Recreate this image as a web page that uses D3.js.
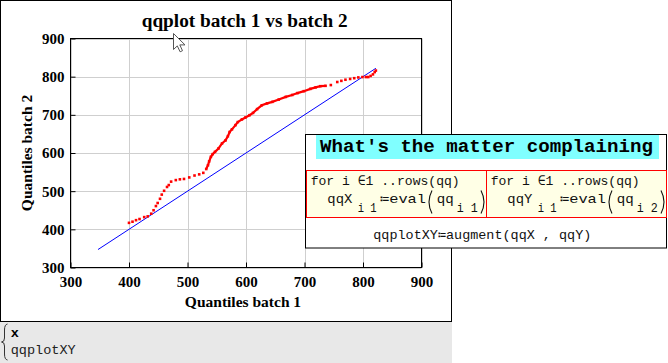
<!DOCTYPE html>
<html><head><meta charset="utf-8">
<script src="https://cdn.jsdelivr.net/npm/d3@7"></script>
<style>body{margin:0;background:#fff} svg{display:block}</style>
</head><body>
<svg id="c" width="668" height="363"></svg>
<script>
const chartTitle = "qqplot batch 1 vs batch 2";
const xLabel = "Quantiles batch 1";
const yLabel = "Quantiles batch 2";
const xTicks = [300, 400, 500, 600, 700, 800, 900];
const yTicks = [300, 400, 500, 600, 700, 800, 900];
const batch1Quantiles = [400,406,412,418,426,432,438,442,446,449,453,456,460,465,468,472,480,487,494,503,512,520,527,532,535,537,540,543,547,553,559,565,569,572,576,582,586,593,599,606,612,619,627,636,645,656,668,679,688,699,710,719,727,736,745,756,763,770,778,785,792,799,805,809,813,817,820,822];
const batch2Quantiles = [417,420,424,427,432,434,441,450,461,469,480,491,501,511,516,525,529,531,532,536,541,544,548,558,568,578,590,597,603,612,625,633,644,655,662,673,681,688,693,699,705,715,725,730,734,740,747,752,757,762,768,772,775,776,778,786,789,792,794,796,798,799,799,799,802,806,812,816];
const refLine = [347, 822];
const solidRange = [530, 740];

const svg = d3.select("#c");
const serif = "'Liberation Serif', 'Times New Roman', serif";
const mono = "'Liberation Mono', 'Courier New', monospace";

// outer frame
svg.append("rect").attr("x", 0.5).attr("y", 0.5).attr("width", 451).attr("height", 321)
  .attr("fill", "#fff").attr("stroke", "#000");
// gray area below
svg.append("rect").attr("x", 0).attr("y", 322).attr("width", 452).attr("height", 41).attr("fill", "#e8e8e8");

const x = d3.scaleLinear().domain([300, 900]).range([70.5, 421.5]);
const y = d3.scaleLinear().domain([300, 900]).range([267.5, 38.5]);

const g = svg.append("g");
// grid
g.selectAll(".gx").data(xTicks).join("line")
  .attr("x1", d => Math.round(x(d)) + 0.5).attr("x2", d => Math.round(x(d)) + 0.5)
  .attr("y1", y(900)).attr("y2", y(300)).attr("stroke", "#cfcfcf");
g.selectAll(".gy").data(yTicks).join("line")
  .attr("y1", d => Math.round(y(d)) + 0.5).attr("y2", d => Math.round(y(d)) + 0.5)
  .attr("x1", x(300)).attr("x2", x(900)).attr("stroke", "#cfcfcf");

// axes
const xa = svg.append("g").attr("transform", `translate(0,${y(300)})`)
  .call(d3.axisBottom(x).tickValues(xTicks).tickSize(-5).tickPadding(8).tickFormat(d3.format("d")));
const ya = svg.append("g").attr("transform", `translate(${x(300)},0)`)
  .call(d3.axisLeft(y).tickValues(yTicks).tickSize(-5).tickPadding(6).tickFormat(d3.format("d")));
[xa, ya].forEach(a => {
  a.select(".domain").remove();
  a.selectAll("line").attr("stroke", "#000");
  a.selectAll("text").attr("font-family", serif).attr("font-weight", "bold")
    .attr("font-size", 15).attr("fill", "#000");
});
xa.selectAll("text").attr("dy", "0.78em");
ya.selectAll("text").attr("dy", "0.33em");

// border
svg.append("rect").attr("x", x(300)).attr("y", y(900))
  .attr("width", x(900) - x(300)).attr("height", y(300) - y(900))
  .attr("fill", "none").attr("stroke", "#000");

// reference line
svg.append("path").datum(refLine)
  .attr("d", d3.line().x(d => x(d)).y(d => y(d)))
  .attr("stroke", "#0000ff").attr("stroke-width", 1).attr("fill", "none");

// qq points
const pts = batch1Quantiles.map((v, i) => [v, batch2Quantiles[i]]);
const solid = pts.filter(p => p[0] >= solidRange[0] && p[0] <= solidRange[1]);
svg.append("path").datum(solid)
  .attr("d", d3.line().x(d => x(d[0])).y(d => y(d[1])))
  .attr("stroke", "#ff0000").attr("stroke-width", 2.2).attr("fill", "none");
svg.selectAll(".pt").data(pts).join("rect")
  .attr("x", d => x(d[0]) - 1.3).attr("y", d => y(d[1]) - 1.3)
  .attr("width", 2.6).attr("height", 2.6).attr("fill", "#ff0000");

// titles
svg.append("text").attr("x", 141.7).attr("y", 27)
  .attr("font-family", serif).attr("font-weight", "bold").attr("font-size", 18.5)
  .attr("textLength", 206).attr("lengthAdjust", "spacingAndGlyphs").text(chartTitle);
svg.append("text").attr("x", 243).attr("y", 307).attr("text-anchor", "middle")
  .attr("font-family", serif).attr("font-weight", "bold").attr("font-size", 15.5).text(xLabel);
svg.append("text").attr("transform", "translate(32,153) rotate(-90)").attr("text-anchor", "middle")
  .attr("font-family", serif).attr("font-weight", "bold").attr("font-size", 15.5).text(yLabel);

// Mathcad region box
svg.append("rect").attr("x", 305.5).attr("y", 134.5).attr("width", 361).attr("height", 113.5)
  .attr("fill", "#fff").attr("stroke", "#000");
svg.append("rect").attr("x", 316).attr("y", 135).attr("width", 343).attr("height", 24).attr("fill", "#80ffff");
svg.append("text").attr("x", 320).attr("y", 152).attr("font-family", mono).attr("font-weight", "bold")
  .attr("font-size", 19).attr("textLength", 333).attr("lengthAdjust", "spacingAndGlyphs")
  .text("What's the matter complaining");

[0, 180].forEach((dx, k) => {
  svg.append("rect").attr("x", 306.5 + dx).attr("y", 170.5).attr("width", 180).attr("height", 47)
    .attr("fill", "#ffffe6").attr("stroke", "#ff0000");
  const t = (xx, yy, s, fs, len) => {
    const e = svg.append("text").attr("x", xx + dx).attr("y", yy).attr("font-family", mono)
      .attr("font-size", fs).attr("fill", "#111").text(s);
    if (len) e.attr("textLength", len).attr("lengthAdjust", "spacingAndGlyphs");
    return e;
  };
  t(310.7, 185, "for i \u22081 ..rows(qq)", 13.5, 149);
  t(327.3, 203, k === 0 ? "qqX" : "qqY", 13.5, 25);
  t(357.7, 211.5, "i 1", 13.5, 19);
  t(380, 203, "\u2254eval", 13.5, 46);
  t(436.7, 203, "qq", 13.5, 17);
  t(456.7, 211.5, k === 0 ? "i 1" : "i 2", 13.5, 21);
  svg.append("path").attr("d", `M${432 + dx},190.5 Q${426 + dx},202 ${432 + dx},213.5`)
    .attr("fill", "none").attr("stroke", "#111").attr("stroke-width", 1.1);
  svg.append("path").attr("d", `M${481 + dx},190.5 Q${487 + dx},202 ${481 + dx},213.5`)
    .attr("fill", "none").attr("stroke", "#111").attr("stroke-width", 1.1);
});
svg.append("text").attr("x", 373.3).attr("y", 239).attr("font-family", mono).attr("font-size", 13.5)
  .attr("fill", "#111").attr("textLength", 218).attr("lengthAdjust", "spacingAndGlyphs")
  .text("qqplotXY\u2254augment(qqX , qqY)");

// bottom gray area text
svg.append("path").attr("d", "M7.5,324 Q4.5,324.5 4.5,330 L4.5,338 Q4.5,342 1.5,342 Q4.5,342 4.5,346 L4.5,354 Q4.5,359.5 7.5,360")
  .attr("fill", "none").attr("stroke", "#333");
svg.append("text").attr("x", 10.7).attr("y", 337).attr("font-family", mono).attr("font-weight", "bold")
  .attr("font-size", 13.5).text("x");
svg.append("text").attr("x", 10.7).attr("y", 354).attr("font-family", mono).attr("font-size", 13.5)
  .attr("fill", "#222").attr("textLength", 65).attr("lengthAdjust", "spacingAndGlyphs").text("qqplotXY");

// mouse cursor
svg.append("path").attr("transform", "translate(173.5,33.5)")
  .attr("d", "M0,0 L0,16 L3.8,12.4 L6.6,18.3 L9,17.2 L6.3,11.4 L11.5,11.4 Z")
  .attr("fill", "#fff").attr("stroke", "#555").attr("stroke-width", 1);
</script>
</body></html>
